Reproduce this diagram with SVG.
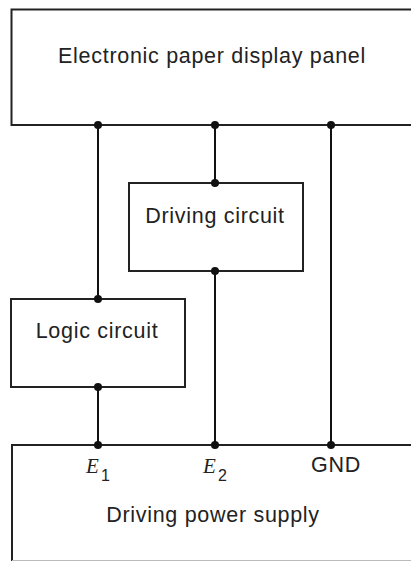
<svg xmlns="http://www.w3.org/2000/svg" width="411" height="561" viewBox="0 0 411 561">
<style>
.box{fill:none;stroke:#222;stroke-width:2}
.w{fill:none;stroke:#111;stroke-width:2}
.t{font-family:"Liberation Sans",Arial,sans-serif;font-size:21.5px;letter-spacing:0.7px;fill:#222;text-anchor:middle}
.m{font-family:"Liberation Serif","Times New Roman",serif;font-style:italic;font-size:21px;fill:#222}
.s{font-family:"Liberation Sans",Arial,sans-serif;font-size:16px;fill:#222}
.d{fill:#111}
</style>
<rect width="411" height="561" fill="#fff"/>
<g id="panel">
<path class="box" d="M420 9.5 H11.5 V125 H420"/>
<text class="t" x="212" y="63">Electronic paper display panel</text>
</g>
<g id="driving-circuit">
<rect class="box" x="129" y="183" width="174" height="88"/>
<text class="t" x="215" y="223">Driving circuit</text>
</g>
<g id="logic-circuit">
<rect class="box" x="11" y="299" width="174" height="88"/>
<text class="t" x="97" y="338">Logic circuit</text>
</g>
<g id="power-supply">
<path class="box" d="M420 445 H12 V570"/>
<line x1="12" y1="560.5" x2="411" y2="560.5" stroke="#bbb" stroke-width="1"/>
<text class="t" x="213" y="522">Driving power supply</text>
<text class="m" x="86" y="473">E</text><text class="s" x="101" y="481">1</text>
<text class="m" x="203" y="473">E</text><text class="s" x="218" y="481">2</text>
<text class="t" x="336" y="472">GND</text>
</g>
<g id="connectors">
<line class="w" x1="98" y1="125" x2="98" y2="299"/>
<line class="w" x1="215" y1="125" x2="215" y2="183"/>
<line class="w" x1="331" y1="125" x2="331" y2="445"/>
<line class="w" x1="215" y1="271" x2="215" y2="445"/>
<line class="w" x1="98" y1="387" x2="98" y2="445"/>
<circle class="d" cx="98" cy="125" r="4"/>
<circle class="d" cx="215" cy="125" r="4"/>
<circle class="d" cx="331" cy="125" r="4"/>
<circle class="d" cx="215" cy="183" r="4"/>
<circle class="d" cx="215" cy="271" r="4"/>
<circle class="d" cx="98" cy="299" r="4"/>
<circle class="d" cx="98" cy="387" r="4"/>
<circle class="d" cx="98" cy="445" r="4"/>
<circle class="d" cx="215" cy="445" r="4"/>
<circle class="d" cx="331" cy="445" r="4"/>
</g>
</svg>
